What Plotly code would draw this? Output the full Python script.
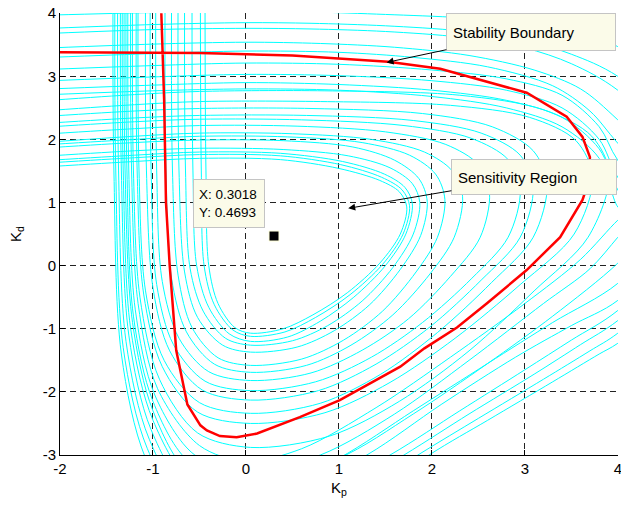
import plotly.graph_objects as go

# ---------------- data (Kp, Kd) ----------------
# Stability boundary (red)
stab_kp = [-0.91, -0.88, -0.86, -0.82, -0.75, -0.63, -0.49, -0.42, -0.28, -0.10, 0.12, 0.58, 1.01,
           1.66, 1.92, 2.27, 2.59, 3.02, 3.38, 3.62, 3.68, 3.70, 3.62, 3.45, 3.02, 2.09, 1.53, 0.5,
           -0.5, -2.0]
stab_kd = [4.0, 2.63, 1.0, 0.0, -1.34, -2.2, -2.53, -2.61, -2.70, -2.72, -2.66, -2.4, -2.13,
           -1.6, -1.31, -0.98, -0.6, -0.07, 0.45, 1.04, 1.3, 1.72, 2.04, 2.36, 2.74, 3.12, 3.23, 3.33,
           3.37, 3.38]

# Sensitivity contours (cyan), inner to outer
s01_kp = [-0.44, -0.43, -0.40, -0.30, -0.12, 0.05, 0.40, 0.72, 1.09, 1.44, 1.66, 1.73, 1.65, 1.44, 1.00, 0.37, -0.50, -1.20, -2.10]
s01_kd = [4.3, 1.5, 0.0, -0.6, -0.98, -1.07, -1.0, -0.78, -0.43, 0.04, 0.5, 0.93, 1.17, 1.35, 1.54, 1.68, 1.70, 1.65, 1.57]
s02_kp = [-0.49, -0.48, -0.45, -0.34, -0.14, 0.05, 0.42, 0.75, 1.12, 1.47, 1.69, 1.76, 1.68, 1.46, 1.02, 0.37, -0.50, -1.20, -2.10]
s02_kd = [4.3, 1.5, 0.0, -0.62, -1.02, -1.12, -1.05, -0.82, -0.46, 0.02, 0.5, 0.95, 1.2, 1.4, 1.6, 1.74, 1.76, 1.71, 1.63]
s03_kp = [-0.58, -0.57, -0.53, -0.40, -0.18, 0.05, 0.45, 0.8, 1.16, 1.5, 1.72, 1.79, 1.71, 1.49, 1.04, 0.37, -0.5, -1.2, -2.1]
s03_kd = [4.3, 1.5, 0.0, -0.66, -1.08, -1.20, -1.13, -0.88, -0.5, 0.0, 0.5, 0.98, 1.24, 1.45, 1.65, 1.78, 1.80, 1.75, 1.67]
s04_kp = [-0.66, -0.65, -0.60, -0.46, -0.22, 0.05, 0.5, 0.88, 1.25, 1.58, 1.8, 1.87, 1.79, 1.55, 1.1, 0.4, -0.5, -1.2, -2.1]
s04_kd = [4.3, 1.5, -0.05, -0.72, -1.15, -1.26, -1.19, -0.95, -0.56, -0.03, 0.5, 1.0, 1.3, 1.55, 1.74, 1.84, 1.86, 1.82, 1.74]
s05_kp = [-0.73, -0.72, -0.66, -0.52, -0.25, 0.05, 0.55, 0.95, 1.33, 1.66, 1.88, 1.95, 1.86, 1.6, 1.15, 0.4, -0.5, -1.2, -2.1]
s05_kd = [4.3, 1.5, -0.1, -0.82, -1.26, -1.37, -1.29, -1.03, -0.62, -0.06, 0.48, 1.02, 1.38, 1.67, 1.88, 1.98, 1.99, 1.95, 1.87]
s06_kp = [-0.8, -0.79, -0.73, -0.58, -0.3, 0.05, 0.6, 1.05, 1.47, 1.83, 2.06, 2.14, 2.04, 1.76, 1.25, 0.45, -0.5, -1.2, -2.1]
s06_kd = [4.3, 1.5, -0.15, -0.98, -1.46, -1.58, -1.48, -1.18, -0.72, -0.1, 0.45, 1.05, 1.45, 1.75, 1.95, 2.04, 2.05, 2.0, 1.92]
s07_kp = [-0.87, -0.86, -0.8, -0.64, -0.34, 0.05, 0.65, 1.13, 1.58, 1.98, 2.24, 2.33, 2.22, 1.92, 1.35, 0.5, -0.5, -1.2, -2.1]
s07_kd = [4.3, 1.5, -0.2, -1.05, -1.56, -1.69, -1.58, -1.26, -0.78, -0.13, 0.45, 1.1, 1.5, 1.8, 2.0, 2.09, 2.1, 2.05, 1.96]
s08_kp = [-0.97, -0.96, -0.9, -0.72, -0.4, 0.05, 0.7, 1.25, 1.75, 2.2, 2.52, 2.62, 2.5, 2.15, 1.5, 0.55, -0.5, -1.2, -2.1]
s08_kd = [4.3, 1.5, -0.25, -1.15, -1.68, -1.82, -1.7, -1.34, -0.84, -0.17, 0.45, 1.15, 1.6, 1.92, 2.12, 2.21, 2.22, 2.17, 2.09]
s09_kp = [-1.03, -1.02, -0.96, -0.78, -0.44, 0.05, 0.75, 1.35, 1.9, 2.43, 2.82, 2.95, 2.82, 2.42, 1.7, 0.6, -0.5, -1.2, -2.1]
s09_kd = [4.3, 1.5, -0.3, -1.25, -1.83, -1.98, -1.84, -1.45, -0.9, -0.2, 0.45, 1.2, 1.68, 2.02, 2.22, 2.31, 2.32, 2.28, 2.2]
s10_kp = [-1.08, -1.07, -1.0, -0.82, -0.47, 0.05, 0.78, 1.4, 1.98, 2.53, 2.95, 3.09, 2.95, 2.53, 1.8, 0.65, -0.5, -1.2, -2.1]
s10_kd = [4.3, 1.5, -0.35, -1.35, -1.97, -2.13, -1.98, -1.56, -0.97, -0.23, 0.45, 1.25, 1.75, 2.1, 2.3, 2.38, 2.38, 2.34, 2.26]
s11_kp = [-1.16, -1.15, -1.08, -0.88, -0.5, 0.05, 0.8, 1.45, 2.06, 2.64, 3.09, 3.24, 3.09, 2.65, 1.9, 0.7, -0.5, -1.2, -2.1]
s11_kd = [4.3, 1.5, -0.4, -1.5, -2.17, -2.34, -2.18, -1.72, -1.06, -0.27, 0.45, 1.3, 1.82, 2.2, 2.41, 2.49, 2.49, 2.45, 2.37]
s12_kp = [-1.18, -1.17, -1.1, -0.9, -0.52, 0.05, 0.85, 1.55, 2.25, 2.95, 3.53, 3.73, 3.55, 3.05, 2.2, 0.8, -0.5, -1.2, -2.1]
s12_kd = [4.3, 1.5, -0.45, -1.6, -2.32, -2.5, -2.33, -1.85, -1.15, -0.3, 0.5, 1.4, 1.98, 2.35, 2.54, 2.6, 2.6, 2.55, 2.46]
s13_kp = [-1.22, -1.21, -1.14, -0.93, -0.52, 0.05, 0.9, 1.65, 2.4, 3.1, 3.68, 3.91, 3.72, 3.2, 2.3, 0.85, -0.5, -1.2, -2.1]
s13_kd = [4.3, 1.5, -0.5, -1.8, -2.65, -2.88, -2.7, -2.15, -1.35, -0.4, 0.45, 1.45, 2.05, 2.47, 2.7, 2.77, 2.76, 2.71, 2.62]
s14_kp = [-1.24, -1.23, -1.16, -0.95, -0.5, 0.0, 0.6, 1.4, 2.2, 3.0, 3.6, 4.0, 4.1, 4.0, 3.8, 3.4, 2.8, 2.0, 1.0, 0.0, -1.0, -2.1]
s14_kd = [4.3, 1.5, -0.6, -1.95, -2.85, -3.1, -2.9, -2.25, -1.45, -0.6, 0.1, 0.72, 0.83, 0.93, 1.7, 2.2, 2.5, 2.68, 2.78, 2.8, 2.77, 2.71]
s15_kp = [-1.27, -1.26, -1.19, -0.98, -0.55, 0.05, 0.8, 1.6, 2.4, 3.2, 3.7, 4.0, 4.2, 4.0, 3.8, 3.4, 2.8, 2.0, 1.0, 0.0, -1.0, -2.1]
s15_kd = [4.3, 1.5, -0.7, -2.05, -3.0, -3.25, -3.0, -2.35, -1.5, -0.6, -0.05, 0.45, 0.8, 1.2, 1.85, 2.35, 2.62, 2.78, 2.87, 2.9, 2.86, 2.8]
s16_kp = [-1.29, -1.28, -1.21, -1.0, -0.6, 0.1, 1.0, 1.8, 2.6, 3.3, 4.0, 4.4, 4.0, 3.8, 3.4, 2.8, 2.0, 1.0, 0.0, -1.0, -2.1]
s16_kd = [4.3, 1.5, -0.8, -2.15, -3.12, -3.4, -3.05, -2.35, -1.55, -0.8, 0.04, 0.7, 1.4, 2.0, 2.5, 2.78, 2.93, 3.01, 3.03, 2.99, 2.93]
s17_kp = [-1.31, -1.3, -1.22, -1.0, -0.6, 0.15, 1.0, 1.8, 2.6, 3.3, 4.0, 4.6, 4.0, 3.8, 3.4, 2.8, 2.0, 1.0, 0.0, -1.0, -2.1]
s17_kd = [4.3, 1.5, -0.9, -2.3, -3.3, -3.6, -3.05, -2.3, -1.55, -0.9, -0.28, 0.7, 1.67, 2.2, 2.7, 2.96, 3.1, 3.19, 3.21, 3.17, 3.11]
s18_kp = [-1.33, -1.32, -1.24, -1.0, -0.55, 0.2, 1.3, 2.1, 2.9, 3.5, 4.0, 4.8, 4.0, 3.7, 3.3, 2.6, 1.8, 1.0, 0.0, -1.0, -2.1]
s18_kd = [4.3, 1.5, -1.0, -2.45, -3.5, -3.8, -3.0, -2.2, -1.45, -0.95, -0.55, 0.7, 1.94, 2.45, 2.85, 3.15, 3.3, 3.38, 3.4, 3.36, 3.3]
s19_kp = [-1.35, -1.34, -1.26, -1.02, -0.55, 0.25, 1.55, 2.3, 3.0, 3.5, 4.0, 5.0, 4.0, 3.6, 3.1, 2.4, 1.6, 0.8, 0.0, -1.0, -2.1]
s19_kd = [4.3, 1.5, -1.1, -2.6, -3.7, -4.0, -3.0, -2.3, -1.65, -1.18, -0.71, 0.8, 2.31, 2.8, 3.1, 3.33, 3.46, 3.52, 3.54, 3.51, 3.45]
s20_kp = [-1.38, -1.37, -1.29, -1.04, -0.55, 0.3, 1.7, 2.4, 3.1, 3.6, 4.0, 5.3, 4.0, 3.5, 3.0, 2.3, 1.5, 0.7, 0.0, -1.0, -2.1]
s20_kd = [4.3, 1.5, -1.2, -2.75, -3.9, -4.2, -3.0, -2.35, -1.72, -1.25, -0.87, 0.9, 2.78, 3.2, 3.45, 3.62, 3.71, 3.75, 3.76, 3.74, 3.68]
s21_kp = [-1.41, -1.4, -1.32, -1.06, -0.55, 0.35, 1.85, 2.5, 3.2, 3.7, 4.0, 5.6, 4.0, 3.5, 3.0, 2.3, 1.5, 0.7, 0.0, -1.0, -2.1]
s21_kd = [4.3, 1.5, -1.3, -2.9, -4.1, -4.4, -3.0, -2.42, -1.8, -1.35, -1.07, 1.0, 3.0, 3.35, 3.57, 3.72, 3.8, 3.84, 3.85, 3.82, 3.76]
s22_kp = [-1.43, -1.42, -1.34, -1.08, -0.55, 0.4, 1.97, 2.6, 3.3, 3.8, 4.0, 6.0, 4.0, 3.5, 3.0, 2.3, 1.5, 0.7, 0.0, -1.0, -2.1]
s22_kd = [4.3, 1.5, -1.4, -3.05, -4.3, -4.6, -3.0, -2.45, -1.84, -1.4, -1.23, 1.1, 3.47, 3.72, 3.85, 3.93, 3.98, 4.02, 4.03, 4.01, 3.97]

# Data tip
tip_kp = [0.3018]
tip_kd = [0.4693]

# Axis ticks
x_ticks = [-2, -1, 0, 1, 2, 3, 4]
x_ticktext = ["-2", "-1", "0", "1", "2", "3", "4"]
y_ticks = [-3, -2, -1, 0, 1, 2, 3, 4]
y_ticktext = ["-3", "-2", "-1", "0", "1", "2", "3", "4"]

cyan_curves = [
    (s01_kp, s01_kd), (s02_kp, s02_kd), (s03_kp, s03_kd), (s04_kp, s04_kd), (s05_kp, s05_kd),
    (s06_kp, s06_kd), (s07_kp, s07_kd), (s08_kp, s08_kd), (s09_kp, s09_kd), (s10_kp, s10_kd),
    (s11_kp, s11_kd), (s12_kp, s12_kd), (s13_kp, s13_kd), (s14_kp, s14_kd), (s15_kp, s15_kd),
    (s16_kp, s16_kd), (s17_kp, s17_kd), (s18_kp, s18_kd), (s19_kp, s19_kd), (s20_kp, s20_kd),
    (s21_kp, s21_kd), (s22_kp, s22_kd),
]

FONT = "Liberation Sans, Arial, Helvetica, sans-serif"

fig = go.Figure()
for cx, cy in cyan_curves:
    fig.add_trace(go.Scatter(x=cx, y=cy, mode="lines",
                             line=dict(color="#00FFFF", width=1, shape="spline", smoothing=0.9),
                             hoverinfo="skip", showlegend=False))

fig.add_trace(go.Scatter(x=stab_kp, y=stab_kd, mode="lines",
                         line=dict(color="#FF0000", width=2.5),
                         hoverinfo="skip", showlegend=False))

fig.add_trace(go.Scatter(x=tip_kp, y=tip_kd, mode="markers",
                         marker=dict(symbol="square", size=10, color="black",
                                     line=dict(color="#FFFFD8", width=1)),
                         hoverinfo="skip", showlegend=False))

box_bg = "#FBFBE9"
box_border = "#C4C4C4"

fig.add_annotation(x=1.513, y=3.22, xref="x", yref="y",
                   ax=3.065, ay=3.706, axref="x", ayref="y",
                   text="Stability Boundary", showarrow=True,
                   arrowhead=2, arrowsize=1.4, arrowwidth=1, arrowcolor="black",
                   font=dict(family=FONT, size=15, color="black"),
                   bgcolor=box_bg, bordercolor=box_border, borderwidth=1,
                   borderpad=6, width=156, height=24, align="left")

fig.add_annotation(x=1.10, y=0.908, xref="x", yref="y",
                   ax=3.097, ay=1.41, axref="x", ayref="y",
                   text="Sensitivity Region", showarrow=True,
                   arrowhead=2, arrowsize=1.4, arrowwidth=1, arrowcolor="black",
                   font=dict(family=FONT, size=15, color="black"),
                   bgcolor=box_bg, bordercolor=box_border, borderwidth=1,
                   borderpad=6, width=152, height=22, align="left")

fig.add_annotation(x=-0.570, y=1.373, xref="x", yref="y",
                   xanchor="left", yanchor="top",
                   text="X: " + "%.4f" % tip_kp[0] + "<br>Y: " + "%.4f" % tip_kd[0],
                   showarrow=False, font=dict(family=FONT, size=13.5, color="black"),
                   bgcolor=box_bg, bordercolor=box_border, borderwidth=1,
                   borderpad=5, width=60, height=37, align="left")

axis_common = dict(showgrid=True, gridcolor="#222222", gridwidth=1, griddash="6px,4px",
                   zeroline=False, showline=True, linecolor="black", linewidth=1,
                   ticks="inside", ticklen=5, tickcolor="black",
                   tickfont=dict(family=FONT, size=15, color="black"),
                   ticklabeloverflow="allow", automargin=False,
                   mirror=False, tickmode="array")

fig.update_xaxes(range=[-2, 4.002], tickvals=x_ticks, ticktext=x_ticktext,
                 title=dict(text="K<sub>p</sub>", font=dict(family=FONT, size=15, color="black"),
                            standoff=6),
                 **axis_common)
fig.update_yaxes(range=[-3, 4.003], tickvals=y_ticks, ticktext=y_ticktext,
                 title=dict(text="K<sub>d</sub>", font=dict(family=FONT, size=15, color="black"),
                            standoff=17),
                 **axis_common)

fig.update_layout(width=621, height=507, autosize=False,
                  margin=dict(l=60, r=3, t=13, b=52, autoexpand=False),
                  paper_bgcolor="white", plot_bgcolor="white",
                  showlegend=False, font=dict(family=FONT))

fig.write_html("out.html")
